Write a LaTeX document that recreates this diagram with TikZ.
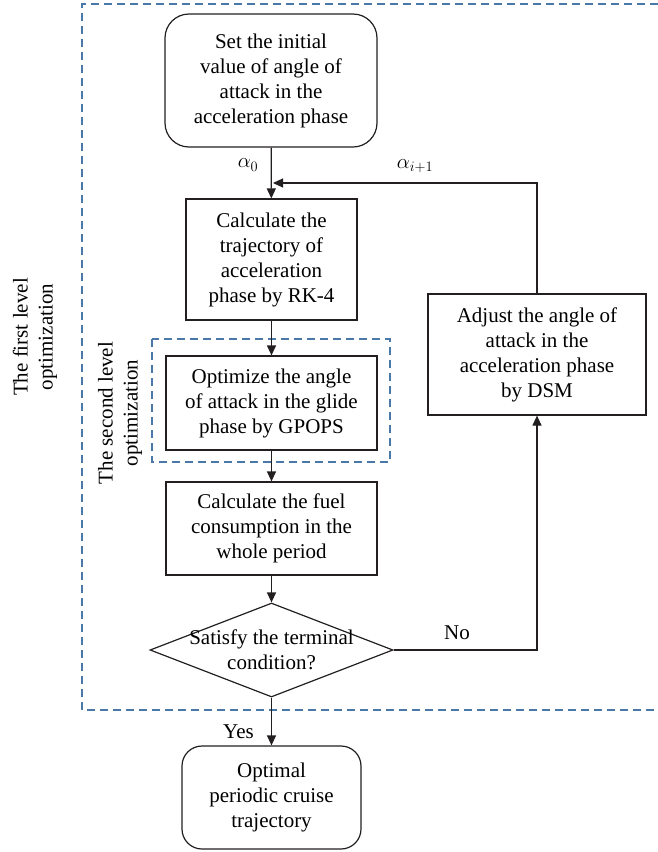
\documentclass[tikz,border=0pt]{standalone}
\usepackage{fontspec}
\setmainfont{Liberation Serif}
\usetikzlibrary{arrows.meta, positioning, calc, shapes.geometric}
\definecolor{linec}{HTML}{231F20}
\definecolor{dashc}{HTML}{4A78A8}

\begin{document}
\begin{tikzpicture}[>={Triangle[length=10pt, width=9pt]}, x=1pt, y=1pt,
          font=\fontsize{21}{25}\selectfont,
          bx/.style={rectangle, draw=linec, line width=1.2pt, align=center, inner sep=0pt},
          rb/.style={bx, rounded corners=24pt},
          dc/.style={diamond, draw=linec, line width=1.2pt, inner sep=0pt, minimum width=243pt, minimum height=94pt},
          grp/.style={draw=dashc, line width=1.1pt, dash pattern=on 8pt off 5pt},
          ar/.style={->, draw=linec, line width=1.2pt}]
        \useasboundingbox (0,0) rectangle (658,-852);
        % groups
        \draw[grp] (658,-4) -- (82,-4) -- (82,-710) -- (658,-710);
        \draw[grp] (152,-339) rectangle (390,-462);
        \node[rotate=90, align=center] (lv1) at (35,-337) {The first level\\optimization};
        \node[rotate=90, align=center] (lv2) at (120,-413) {The second level\\optimization};
        % main chain
        \node[rb, minimum width=212pt, minimum height=133pt] (init) at (271,-80.5) {Set the initial\\value of angle of\\attack in the\\acceleration phase};
        \node[bx, minimum width=171pt, minimum height=121pt] (rk) at (271.5,-259.5) {Calculate the\\trajectory of\\acceleration\\phase by RK-4};
        \node[bx, minimum width=211pt, minimum height=94pt] (gp) at (271.5,-403) {Optimize the angle\\of attack in the glide\\phase by GPOPS};
        \node[bx, minimum width=211pt, minimum height=93pt] (fuel) at (271.5,-528.5) {Calculate the fuel\\consumption in the\\whole period};
        \node[dc] (cond) at (271.5,-650) {};
        \node[align=center] (condt) at (cond) {Satisfy the terminal\\condition?};
        \node[rb, rounded corners=20pt, minimum width=179pt, minimum height=103pt] (opt) at (271.5,-797.5) {Optimal\\periodic cruise\\trajectory};
        \node[bx, minimum width=218pt, minimum height=121pt] (dsm) at (537,-354.5) {Adjust the angle of\\attack in the\\acceleration phase\\by DSM};
        \coordinate (join) at (273,-183);
        % connectors
        \draw[ar] (init) -- (rk); \draw[ar] (rk) -- (gp); \draw[ar] (gp) -- (fuel); \draw[ar] (fuel) -- (cond.north);
        \draw[ar] (cond.south) -- (opt); \draw[ar] (cond.east) -| (dsm.south); \draw[ar] (dsm.north) |- (join);
        \node (a0) at (248,-165) {$\alpha_0$};
        \node (ai) at (415,-166) {$\alpha_{i+1}$};
        \node (no) at (457,-633) {No};
        \node (yes) at (238.5,-732) {Yes};
      \end{tikzpicture}
\end{document}
